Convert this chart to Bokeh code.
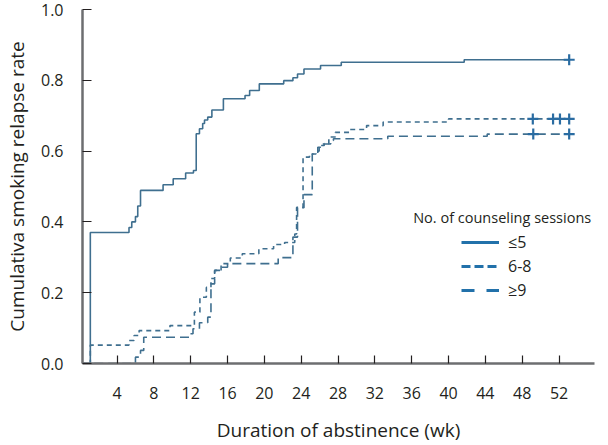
from bokeh.plotting import figure
from bokeh.models import Legend, LegendItem, Label, FixedTicker, Range1d
from bokeh.embed import file_html
from bokeh.resources import INLINE

# ---------------- data ----------------
weeks_le5 = [0, 1.1, 5.3, 5.6, 6.0, 6.25, 6.55, 9.0, 10.1, 11.45, 12.3, 12.6, 12.95,
             13.3, 13.5, 13.85, 14.3, 15.55, 17.9, 18.4, 19.45, 22.1, 23.1, 23.6,
             24.3, 26.1, 28.35, 41.7, 53.1]
rate_le5 = [0, 0.370, 0.384, 0.400, 0.415, 0.445, 0.489, 0.505, 0.522, 0.538, 0.545,
            0.649, 0.663, 0.678, 0.688, 0.696, 0.716, 0.748, 0.757, 0.771, 0.790,
            0.799, 0.807, 0.818, 0.832, 0.842, 0.851, 0.858, 0.858]

weeks_6_8 = [0, 1.1, 5.3, 5.85, 6.4, 9.75, 12.4, 13.0, 13.7, 14.2, 14.6, 15.3, 16.3,
             17.6, 19.4, 21.0, 22.2, 23.3, 23.5, 24.2, 24.9, 25.6, 25.95, 26.5, 27.0,
             27.7, 29.3, 31.1, 32.9, 40.0, 53.1]
rate_6_8 = [0, 0.052, 0.065, 0.079, 0.093, 0.107, 0.145, 0.187, 0.215, 0.240, 0.263,
            0.282, 0.298, 0.310, 0.324, 0.336, 0.342, 0.366, 0.441, 0.583, 0.592,
            0.600, 0.616, 0.621, 0.640, 0.653, 0.661, 0.672, 0.682, 0.691, 0.691]

weeks_ge9 = [0, 6.0, 6.55, 6.9, 11.9, 12.25, 12.95, 13.85, 14.2, 14.6, 15.3, 16.0,
             21.5, 23.1, 23.6, 24.3, 25.2, 25.8, 26.3, 27.2, 27.5, 33.4, 44.2, 53.1]
rate_ge9 = [0, 0.018, 0.037, 0.074, 0.084, 0.098, 0.115, 0.131, 0.225, 0.263, 0.272,
            0.282, 0.299, 0.357, 0.440, 0.477, 0.592, 0.611, 0.620, 0.630, 0.635,
            0.642, 0.648, 0.648]

censor_le5_t = [53.1]
censor_le5_v = [0.858]
censor_6_8_t = [49.15, 51.35, 52.1, 53.1]
censor_6_8_v = [0.691, 0.691, 0.691, 0.691]
censor_ge9_t = [49.2, 53.1]
censor_ge9_v = [0.648, 0.648]

x_ticks = [4, 8, 12, 16, 20, 24, 28, 32, 36, 40, 44, 48, 52]
y_ticks = [0.0, 0.2, 0.4, 0.6, 0.8, 1.0]
group_labels = ["\u22645", "6-8", "\u22659"]
legend_title = "No. of counseling sessions"
x_title = "Duration of abstinence (wk)"
y_title = "Cumulativa smoking relapse rate"

# ---------------- styling ----------------
FONT = "Open Sans"
LINE_C = "#3f6f8f"
MARK_C = "#2a6ca2"
LEG_C = "#2271aa"
TEXT_C = "#231f20"
AXIS_C = "#6d6e70"
NAN = float("nan")

p = figure(width=600, height=445, output_backend="svg", toolbar_location=None,
           x_range=Range1d(0.25, 55.85), y_range=Range1d(0, 1.0),
           min_border_left=73, min_border_right=6, min_border_top=9,
           min_border_bottom=82)
p.outline_line_color = None
p.xgrid.visible = False
p.ygrid.visible = False

p.step(weeks_le5, rate_le5, mode="after", line_color=LINE_C, line_width=1.6)
p.step(weeks_6_8, rate_6_8, mode="after", line_color=LINE_C, line_width=1.6,
       line_dash="5 4")
p.step(weeks_ge9, rate_ge9, mode="after", line_color=LINE_C, line_width=1.6,
       line_dash="9 5")

for t, v in [(censor_le5_t, censor_le5_v), (censor_6_8_t, censor_6_8_v),
             (censor_ge9_t, censor_ge9_v)]:
    p.scatter(t, v, marker="cross", size=11, line_color=MARK_C, line_width=2.2)

# legend proxies (no data drawn in the plot)
r1 = p.line([NAN], [NAN], line_color=LEG_C, line_width=3)
r2 = p.line([NAN], [NAN], line_color=LEG_C, line_width=3, line_dash="9 4")
r3 = p.line([NAN], [NAN], line_color=LEG_C, line_width=3, line_dash="13 12")
legend = Legend(items=[LegendItem(label=group_labels[0], renderers=[r1]),
                       LegendItem(label=group_labels[1], renderers=[r2]),
                       LegendItem(label=group_labels[2], renderers=[r3])],
                location=(379, 62), orientation="vertical",
                border_line_color=None, background_fill_alpha=0,
                padding=0, margin=0, spacing=2, glyph_width=38, glyph_height=22,
                label_height=22, label_standoff=9,
                label_text_font=FONT, label_text_font_size="16px",
                label_text_color=TEXT_C)
p.add_layout(legend)

title = Label(x=330.7, y=146.5, x_units="screen", y_units="screen",
              text=legend_title, text_font=FONT, text_font_size="14.5px",
              text_color=TEXT_C, text_baseline="middle", text_align="left")
p.add_layout(title)

# axes
p.xaxis.ticker = FixedTicker(ticks=x_ticks)
p.yaxis.ticker = FixedTicker(ticks=y_ticks)
p.yaxis.major_label_overrides = {v: f"{v:.1f}" for v in y_ticks}
for ax in (p.xaxis[0], p.yaxis[0]):
    ax.axis_line_color = AXIS_C
    ax.axis_line_width = 2.5
    ax.major_tick_line_color = TEXT_C
    ax.major_tick_line_width = 1.2
    ax.major_tick_out = 0
    ax.minor_tick_line_color = None
    ax.major_label_text_font = FONT
    ax.major_label_text_font_size = "16px"
    ax.major_label_text_color = TEXT_C
    ax.axis_label_text_font = FONT
    ax.axis_label_text_font_size = "19px"
    ax.axis_label_text_font_style = "normal"
    ax.axis_label_text_color = TEXT_C
p.xaxis.major_tick_in = 8
p.yaxis.major_tick_in = 9
p.xaxis.major_label_standoff = 23
p.yaxis.major_label_standoff = 19
p.xaxis.axis_label = x_title
p.yaxis.axis_label = y_title
p.xaxis.axis_label_standoff = 15
p.yaxis.axis_label_standoff = 8

open("out.html", "w").write(file_html(p, INLINE))
